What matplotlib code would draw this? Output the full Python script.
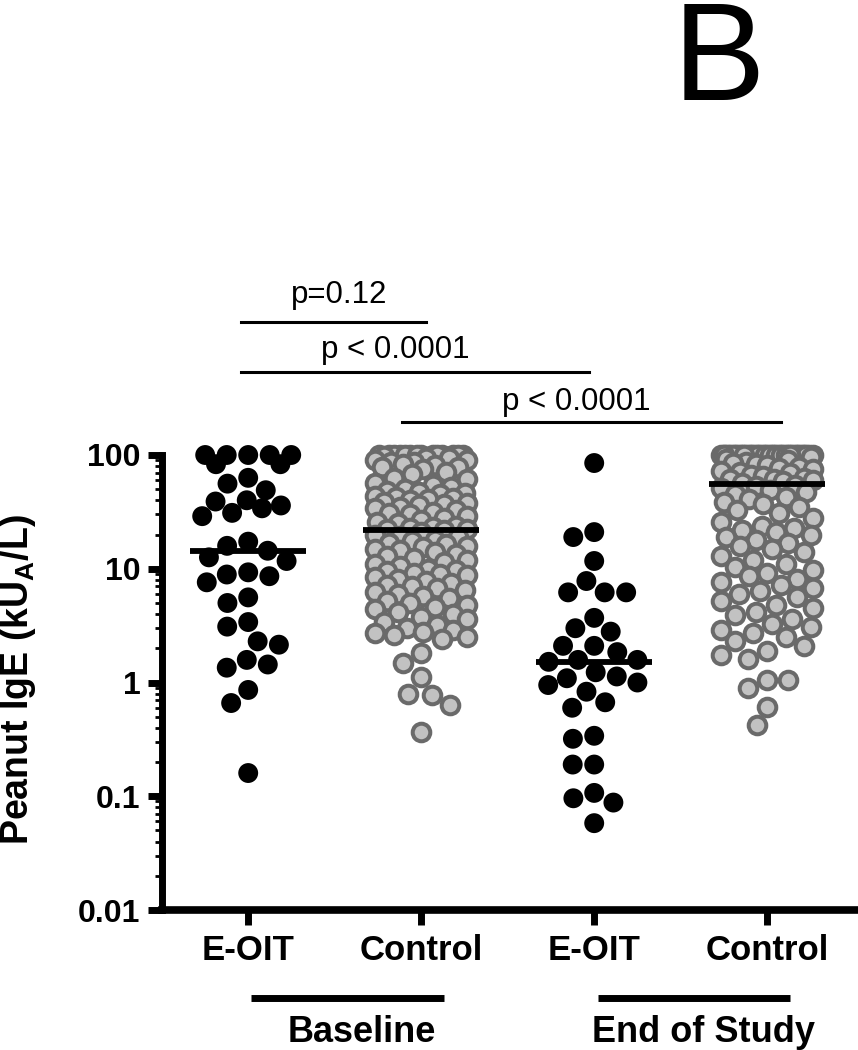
"""
Peanut IgE at baseline and end of study, E-OIT vs control.
Prism-style scatter dot plot (log axis, median bars, p-value brackets).
Output: out.png
"""

import numpy as np
import matplotlib
matplotlib.use("Agg")
import matplotlib.pyplot as plt
from matplotlib.ticker import FixedLocator, LogLocator, NullFormatter

plt.rcParams["font.family"] = ["Liberation Sans", "DejaVu Sans"]
plt.rcParams["mathtext.fontset"] = "custom"
plt.rcParams["mathtext.rm"] = "Liberation Sans:bold"
plt.rcParams["mathtext.default"] = "rm"

# Data (kUA/L; values >100 are shown at 100)

group_labels = ["E-OIT", "Control", "E-OIT", "Control"]
period_labels = ["Baseline", "End of Study"]
ytick_values = [0.01, 0.1, 1, 10, 100]
ytick_labels = ["0.01", "0.1", "1", "10", "100"]

baseline_eoit = [100, 100, 100, 100, 100, 83, 83, 63, 56, 49, 40, 39, 36, 34,
                 31, 29, 17.3, 15.9, 14.4, 12.6, 11.7, 9.3, 8.9, 8.6, 7.6,
                 5.6, 5.0, 3.4, 3.1, 2.3, 2.15, 1.58, 1.44, 1.35, 0.86, 0.66,
                 0.16]

baseline_control = [100, 100, 100, 100, 100, 100, 100, 100, 100, 100, 100, 100,
                    100, 100, 98, 95, 94, 91, 90, 87, 86, 83, 82, 79, 78, 75,
                    71, 68, 63, 61, 57, 55, 52, 50, 48, 47, 46, 45, 44, 42.5,
                    42, 41, 40, 38.5, 38, 37, 36, 35, 34, 33, 31.5, 31, 30, 29,
                    28, 27, 26, 25, 24, 23.5, 23, 22.5, 22.2, 22, 21, 20, 19.5,
                    19, 18, 17.5, 17, 16.5, 16, 15.5, 15, 14.5, 14, 13.5, 13,
                    12.5, 12, 11.5, 11, 10.5, 10, 9.8, 9.5, 9.2, 9.0, 8.8, 8.4,
                    8.1, 7.8, 7.5, 7.2, 7.0, 6.8, 6.5, 6.2, 6.0, 5.8, 5.5, 5.2,
                    5.0, 4.8, 4.6, 4.4, 4.2, 4.0, 3.8, 3.6, 3.4, 3.2, 3.0, 2.9,
                    2.8, 2.7, 2.6, 2.5, 2.4, 1.81, 1.48, 1.12, 0.80, 0.78, 0.63,
                    0.37]

end_eoit = [85, 21, 19, 11.7, 7.8, 6.2, 6.2, 6.2, 3.7, 3.0, 2.8, 2.1, 2.1,
            1.85, 1.58, 1.58, 1.52, 1.23, 1.13, 1.09, 1.0, 0.95, 0.83, 0.67,
            0.60, 0.34, 0.32, 0.19, 0.19, 0.107, 0.096, 0.088, 0.058]

end_control = [100, 100, 100, 100, 100, 100, 100, 100, 100, 100, 100, 100, 100,
               100, 100, 100, 100, 100, 100, 100, 100, 100, 100, 100, 100, 100,
               100, 100, 100, 100, 100, 100, 100, 100, 100, 100, 100, 100, 100,
               100, 96, 93, 90, 87, 85, 83, 81, 79, 77, 75, 73, 71, 69, 67, 65,
               63, 62, 61, 60, 59, 57, 55, 53, 51, 49, 47, 45, 43, 41, 39, 37,
               35, 33, 31, 28, 26, 24, 23, 22, 21, 20, 19, 18, 17, 16, 15, 14,
               13, 12, 11, 10.4, 9.8, 9.2, 8.7, 8.2, 7.7, 7.2, 6.8, 6.4, 6.0,
               5.6, 5.2, 4.8, 4.5, 4.2, 3.9, 3.6, 3.3, 3.1, 2.9, 2.7, 2.5, 2.3,
               2.1, 1.9, 1.75, 1.6, 1.05, 1.05, 0.9, 0.61, 0.42]

groups = [baseline_eoit, baseline_control, end_eoit, end_control]
is_control = [False, True, False, True]

# Layout (pixels of the 858x1050 figure)

W, H = 858, 1050
AX_LEFT, AX_TOP, AX_BOTTOM = 161.7, 455, 910
PX_PER_X = 173.0                          # one category step
PX_PER_DECADE = (AX_BOTTOM - AX_TOP) / 4  # log axis 0.01..100


def swarm_offsets(values, spacing_px, max_px):
    """Prism-like swarm: place points top-down as close to the centre as
    they fit; when the row is full, take the least crowded slot."""
    y = np.log10(values) * PX_PER_DECADE
    order = np.argsort(-y, kind="stable")
    px, py = [], []
    xs = np.zeros(len(values))
    for i in order:
        cands = [0.0]
        for xj, yj in zip(px, py):
            dy = abs(y[i] - yj)
            if dy < spacing_px:
                dx = np.sqrt(spacing_px**2 - dy**2)
                cands += [xj - dx, xj + dx]
        cands = sorted(set(cands), key=lambda c: (abs(c), c))
        chosen = None
        for c in cands:
            if abs(c) > max_px + 1e-6:
                continue
            if all((c - xj)**2 + (y[i] - yj)**2 >= spacing_px**2 - 1e-6
                   for xj, yj in zip(px, py)):
                chosen = c
                break
        if chosen is None:
            grid = np.linspace(-max_px, max_px, 41)
            pts_x, pts_y = np.array(px), np.array(py)
            best = max(grid, key=lambda c: np.min((c - pts_x)**2 + (y[i] - pts_y)**2))
            chosen = best
        xs[i] = chosen
        px.append(chosen)
        py.append(y[i])
    return xs / PX_PER_X


fig = plt.figure(figsize=(W / 100, H / 100), dpi=100)
ax = fig.add_axes([AX_LEFT / W, 1 - AX_BOTTOM / H,
                   1 - AX_LEFT / W, (AX_BOTTOM - AX_TOP) / H])

ax.set_yscale("log")
ax.set_ylim(0.01, 100)
ax.set_xlim(0.5, 0.5 + (W - AX_LEFT) / PX_PER_X)

for i, vals in enumerate(groups):
    vals = np.array(vals, dtype=float)
    xc = i + 1
    if is_control[i]:
        off = swarm_offsets(vals, 21.0, 46)
        ax.scatter(xc + off, vals, s=160, facecolor="#c2c2c2",
                   edgecolor="#6a6a6a", linewidths=2.9, clip_on=False, zorder=3)
    else:
        off = swarm_offsets(vals, 21.5, 46)
        ax.scatter(xc + off, vals, s=205, facecolor="black",
                   edgecolor="none", clip_on=False, zorder=3)
    med = np.median(vals)
    ax.plot([xc - 0.335, xc + 0.335], [med, med], color="black", lw=4.2,
            solid_capstyle="butt", zorder=4)

# Axes styling
for side in ["top", "right"]:
    ax.spines[side].set_visible(False)
ax.spines["left"].set_linewidth(5)
ax.spines["bottom"].set_linewidth(5.5)
for side in ["left", "bottom"]:
    ax.spines[side].set_capstyle("projecting")

ax.yaxis.set_major_locator(FixedLocator(ytick_values))
ax.set_yticklabels(ytick_labels)
ax.yaxis.set_minor_locator(LogLocator(base=10, subs=np.arange(2, 10)))
ax.yaxis.set_minor_formatter(NullFormatter())
ax.set_xticks(range(1, len(group_labels) + 1))
ax.set_xticklabels(group_labels)

ax.tick_params(axis="y", which="major", length=9.8, width=5, pad=5.5, labelsize=23)
ax.tick_params(axis="y", which="minor", length=4.8, width=2)
ax.tick_params(axis="x", which="major", length=10.5, width=5, pad=7, labelsize=25)
for lbl in ax.get_xticklabels() + ax.get_yticklabels():
    lbl.set_fontweight("bold")

# y label
fig.text(18.5 / W, 1 - 680 / H, "Peanut IgE (kU$_{A}$/L)", rotation=90,
         ha="center", va="center", fontsize=27, fontweight="bold")

# p-value brackets (x in data, y in axes fraction)
trans = ax.get_xaxis_transform()


def frac(py):
    return (AX_BOTTOM - py) / (AX_BOTTOM - AX_TOP)


brackets = [
    (0.960, 2.029, 322, 1.525, 303, "p=0.12"),
    (0.960, 2.971, 372, 1.850, 358, "p < 0.0001"),
    (1.890, 4.081, 422, 2.896, 410, "p < 0.0001"),
]
for x0, x1, ly, tx, ty, txt in brackets:
    ax.plot([x0, x1], [frac(ly), frac(ly)], color="black", lw=2.2,
            transform=trans, clip_on=False)
    ax.text(tx, frac(ty), txt, transform=trans, ha="center", va="baseline",
            fontsize=22.5)

# group bars under the category labels
periods = [(1.017, 2.133, 1.656), (3.02, 4.13, 3.63)]
for (x0, x1, tx), name in zip(periods, period_labels):
    ax.plot([x0, x1], [frac(998), frac(998)], color="black", lw=5,
            solid_capstyle="butt", transform=trans, clip_on=False)
    ax.text(tx, frac(1042), name, transform=trans, ha="center",
            va="baseline", fontsize=26, fontweight="bold")

# panel letter
fig.text(673 / W, 1 - 100 / H, "B", fontsize=100, ha="left", va="baseline")

fig.savefig("out.png", dpi=100)
